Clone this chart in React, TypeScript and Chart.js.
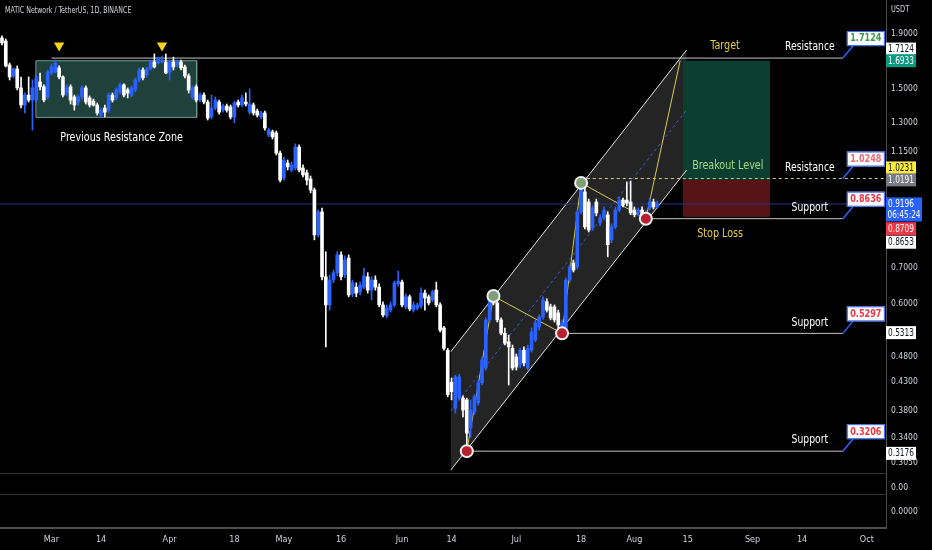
import { useEffect, useRef } from 'react';
import { Chart, registerables } from 'chart.js';

Chart.register(...registerables);

const FONT = '"Liberation Sans Narrow", "DejaVu Sans Condensed", "Roboto Condensed", "Liberation Sans", sans-serif';

// ---- candles (daily, first candle = Feb 16, day index relative to Mar 1) ----
const FIRST_DAY = -13;
const opens = [
  1.866, 1.842, 1.663, 1.587, 1.635, 1.508, 1.402, 1.463, 1.432, 1.432,
  1.547, 1.515, 1.451, 1.607, 1.614, 1.642, 1.580, 1.476, 1.515, 1.451,
  1.420, 1.451, 1.508, 1.445, 1.426, 1.402, 1.343, 1.384, 1.372, 1.463,
  1.445, 1.482, 1.528, 1.495, 1.463, 1.495, 1.560, 1.628, 1.594, 1.635,
  1.684, 1.677, 1.684, 1.684, 1.614, 1.684, 1.663, 1.684, 1.649, 1.587,
  1.451, 1.515, 1.432, 1.463, 1.420, 1.332, 1.384, 1.420, 1.372, 1.396,
  1.390, 1.332, 1.420, 1.402, 1.420, 1.360, 1.402, 1.366, 1.332, 1.355,
  1.234, 1.250, 1.244, 1.142, 1.027, 1.095, 1.063, 1.072, 1.172, 1.072,
  1.050, 1.023, 0.976, 0.806, 0.889, 0.674, 0.598, 0.665, 0.686, 0.740,
  0.680, 0.730, 0.627, 0.645, 0.632, 0.645, 0.674, 0.637, 0.665, 0.645,
  0.598, 0.571, 0.585, 0.598, 0.654, 0.659, 0.593, 0.619, 0.585, 0.590,
  0.595, 0.629, 0.619, 0.611, 0.637, 0.598, 0.542, 0.493, 0.430, 0.385,
  0.402, 0.402, 0.399, 0.354, 0.379, 0.394, 0.429, 0.457, 0.561, 0.619,
  0.603, 0.561, 0.530, 0.511, 0.497, 0.479, 0.463, 0.493, 0.457, 0.493,
  0.515, 0.544, 0.568, 0.606, 0.593, 0.593, 0.578, 0.537, 0.537, 0.665,
  0.715, 0.703, 0.889, 0.968, 0.927, 0.830, 0.927, 0.848, 0.867, 0.878,
  0.789, 0.834, 0.896, 0.935, 0.935, 0.927, 0.896, 0.885, 0.896, 0.867,
  0.904, 0.927, 0.908,
];
const highs = [
  1.882, 1.858, 1.677, 1.642, 1.656, 1.580, 1.476, 1.580, 1.560, 1.594,
  1.607, 1.528, 1.628, 1.670, 1.698, 1.656, 1.587, 1.528, 1.528, 1.463,
  1.463, 1.521, 1.521, 1.457, 1.438, 1.414, 1.384, 1.402, 1.476, 1.476,
  1.508, 1.541, 1.534, 1.508, 1.521, 1.574, 1.642, 1.642, 1.649, 1.698,
  1.743, 1.720, 1.728, 1.743, 1.698, 1.720, 1.698, 1.698, 1.663, 1.601,
  1.521, 1.528, 1.476, 1.476, 1.432, 1.463, 1.451, 1.432, 1.408, 1.408,
  1.402, 1.426, 1.432, 1.463, 1.476, 1.502, 1.414, 1.378, 1.366, 1.366,
  1.271, 1.260, 1.255, 1.152, 1.123, 1.109, 1.100, 1.188, 1.183, 1.086,
  1.063, 1.036, 0.984, 0.896, 0.904, 0.750, 0.680, 0.694, 0.750, 0.750,
  0.737, 0.740, 0.665, 0.657, 0.659, 0.700, 0.686, 0.674, 0.677, 0.654,
  0.606, 0.598, 0.606, 0.662, 0.691, 0.665, 0.627, 0.624, 0.606, 0.603,
  0.643, 0.637, 0.624, 0.637, 0.659, 0.603, 0.546, 0.497, 0.438, 0.443,
  0.445, 0.406, 0.402, 0.399, 0.408, 0.434, 0.479, 0.566, 0.621, 0.629,
  0.611, 0.566, 0.542, 0.526, 0.504, 0.485, 0.497, 0.500, 0.504, 0.542,
  0.561, 0.573, 0.619, 0.614, 0.600, 0.598, 0.585, 0.561, 0.671, 0.709,
  0.724, 0.896, 1.023, 0.984, 0.939, 0.912, 0.939, 0.878, 0.908, 0.889,
  0.845, 0.908, 0.947, 0.943, 1.010, 1.014, 0.908, 0.904, 0.908, 0.896,
  0.943, 0.939, 0.931,
];
const lows = [
  1.811, 1.649, 1.560, 1.574, 1.495, 1.384, 1.355, 1.420, 1.260, 1.420,
  1.495, 1.420, 1.438, 1.594, 1.607, 1.567, 1.451, 1.457, 1.408, 1.372,
  1.402, 1.432, 1.408, 1.390, 1.396, 1.343, 1.332, 1.332, 1.360, 1.420,
  1.432, 1.470, 1.451, 1.445, 1.451, 1.482, 1.547, 1.560, 1.580, 1.628,
  1.642, 1.670, 1.677, 1.601, 1.560, 1.628, 1.649, 1.628, 1.574, 1.476,
  1.438, 1.420, 1.420, 1.408, 1.315, 1.321, 1.372, 1.349, 1.360, 1.360,
  1.321, 1.299, 1.390, 1.390, 1.396, 1.349, 1.343, 1.332, 1.321, 1.260,
  1.224, 1.213, 1.133, 1.010, 1.018, 1.063, 1.054, 1.063, 1.054, 1.032,
  0.997, 0.964, 0.789, 0.799, 0.665, 0.500, 0.585, 0.657, 0.677, 0.665,
  0.671, 0.619, 0.619, 0.619, 0.624, 0.640, 0.629, 0.611, 0.637, 0.593,
  0.568, 0.566, 0.580, 0.593, 0.648, 0.593, 0.588, 0.583, 0.580, 0.585,
  0.590, 0.585, 0.598, 0.606, 0.593, 0.533, 0.493, 0.404, 0.399, 0.377,
  0.399, 0.371, 0.322, 0.340, 0.375, 0.390, 0.425, 0.453, 0.556, 0.598,
  0.556, 0.526, 0.504, 0.425, 0.453, 0.453, 0.457, 0.461, 0.453, 0.489,
  0.511, 0.537, 0.563, 0.580, 0.561, 0.556, 0.542, 0.524, 0.533, 0.659,
  0.688, 0.697, 0.881, 0.827, 0.816, 0.823, 0.874, 0.838, 0.859, 0.734,
  0.779, 0.827, 0.889, 0.908, 0.912, 0.878, 0.870, 0.874, 0.859, 0.855,
  0.896, 0.900, 0.904,
];
const closes = [
  1.827, 1.656, 1.580, 1.635, 1.508, 1.402, 1.463, 1.432, 1.508, 1.574,
  1.515, 1.432, 1.614, 1.649, 1.677, 1.580, 1.463, 1.508, 1.432, 1.402,
  1.451, 1.508, 1.420, 1.402, 1.402, 1.355, 1.372, 1.360, 1.463, 1.432,
  1.495, 1.528, 1.463, 1.476, 1.508, 1.560, 1.628, 1.574, 1.635, 1.684,
  1.649, 1.713, 1.698, 1.607, 1.684, 1.649, 1.684, 1.642, 1.587, 1.495,
  1.508, 1.432, 1.463, 1.420, 1.326, 1.384, 1.432, 1.360, 1.396, 1.372,
  1.332, 1.414, 1.402, 1.445, 1.408, 1.408, 1.355, 1.343, 1.355, 1.271,
  1.260, 1.224, 1.142, 1.018, 1.109, 1.077, 1.086, 1.172, 1.063, 1.041,
  1.018, 0.976, 0.806, 0.889, 0.674, 0.598, 0.665, 0.686, 0.740, 0.674,
  0.724, 0.624, 0.657, 0.629, 0.651, 0.677, 0.637, 0.665, 0.645, 0.598,
  0.573, 0.590, 0.598, 0.657, 0.662, 0.598, 0.619, 0.588, 0.598, 0.598,
  0.629, 0.616, 0.603, 0.632, 0.598, 0.537, 0.497, 0.408, 0.413, 0.440,
  0.440, 0.382, 0.346, 0.382, 0.404, 0.429, 0.473, 0.561, 0.611, 0.603,
  0.561, 0.530, 0.508, 0.500, 0.457, 0.459, 0.493, 0.467, 0.497, 0.533,
  0.554, 0.568, 0.611, 0.585, 0.566, 0.561, 0.549, 0.554, 0.665, 0.703,
  0.694, 0.889, 0.989, 0.834, 0.823, 0.904, 0.885, 0.867, 0.896, 0.773,
  0.834, 0.896, 0.935, 0.915, 0.923, 0.885, 0.878, 0.896, 0.867, 0.885,
  0.927, 0.908, 0.9196,
];

// ---- axes ----
const X_MIN = -13.52;
const X_MAX = 219.03;
const Y_MIN = 0.2921;
const Y_MAX = 2.1935;
const X_TICK_DAYS = [0, 13, 31, 48, 61, 76, 92, 105, 122, 139, 153, 167, 184, 197, 214];
const X_TICK_LABELS = ['Mar', '14', 'Apr', '18', 'May', '16', 'Jun', '14', 'Jul', '18', 'Aug', '15', 'Sep', '14', 'Oct'];
const Y_TICKS = [0.305, 0.34, 0.38, 0.43, 0.48, 0.6, 0.7, 1.15, 1.3, 1.5, 1.9];
const PANE_LABELS = ['0.00', '0.0000'];
const PANE_LABEL_POS = [0.29, 0.48];

// ---- drawings ----
const ZONE_DAYS = [-4.1, 38.1];
const ZONE_PRICES = [1.6933, 1.33];
const BOX_DAYS = [165.7, 188.6];
const BOX_PRICES = [1.6933, 1.0191, 0.8709]; // target, entry, stop
const CHANNEL_DAYS = [104.8, 166.7];
const CHANNEL_UPPER = [0.4899, 1.7726];
const CHANNEL_LOWER = [0.2958, 1.0624];
const CHANNEL_MID = [0.3807, 1.3726];
const ZIGZAG_DAYS = [109, 116, 134, 139, 156, 165];
const ZIGZAG_PRICES = [0.3206, 0.621, 0.5297, 1.006, 0.8636, 1.6933];
const PIVOT_KINDS = ['low', 'high', 'low', 'high', 'low'];
const TRIANGLE_DAYS = [2, 29];
const TRIANGLE_PRICE = 1.806;
const LEVEL_VALUES = [1.7124, 1.0248, 0.8636, 0.5297, 0.3206];
const LEVEL_NAMES = ['Resistance', 'Resistance', 'Support', 'Support', 'Support'];
const LEVEL_START_DAYS = [0, 140.5, 156, 134, 109];
const LEVEL_END_DAY = 207.7;
const LEVEL_VALUE_COLORS = ['#3f9a4c', '#f06a72', '#f23645', '#f23645', '#f23645'];
const CURRENT_PRICE = 0.9196;
const COUNTDOWN = '06:45:24';
const NOTE_TEXTS = ['Previous Resistance Zone', 'Target', 'Breakout Level', 'Stop Loss'];
const NOTE_DAYS = [18.4, 176.8, 177.5, 175.5];
const NOTE_PRICES = [1.219, 1.803, 1.081, 0.809];
const NOTE_COLORS = ['#ffffff', '#e8cd4a', '#a6d98c', '#e8cd4a'];
const TAG_VALUES = [1.7124, 1.6933, 1.0231, 1.0191, 0.8709, 0.8653, 0.5313, 0.3176];
const TAG_BG = ['#ffffff', '#089981', '#ffeb3b', '#787b86', '#f23645', '#ffffff', '#ffffff', '#ffffff'];
const TAG_FG = ['#131722', '#ffffff', '#131722', '#ffffff', '#ffffff', '#131722', '#131722', '#131722'];
const TAG_SHIFT = [-9, 0, -11, 0, 12, 24, 0, 0];

const BLUE = '#2962ff';
const WHITE = '#ffffff';
const TEXT = '#d1d4dc';
const SQUEEZE = 0.82;

const pts = (xs: number[], ys: number[]) => xs.map((x, i) => ({ x, y: ys[i] }));

function lineDs(data: any[], extra: any = {}) {
  return {
    type: 'line',
    data,
    borderColor: '#c8c8c8',
    borderWidth: 1,
    pointRadius: 0,
    tension: 0,
    fill: false,
    order: 6,
    ...extra,
  };
}

// condensed text (horizontal squeeze)
function text(ctx: any, t: string, x: number, y: number, font: string, color: string, align = 'center') {
  ctx.save();
  ctx.font = font;
  ctx.fillStyle = color;
  ctx.textAlign = align;
  ctx.textBaseline = 'middle';
  ctx.translate(x, y);
  ctx.scale(SQUEEZE, 1);
  ctx.fillText(t, 0, 0);
  ctx.restore();
}

const overlayPlugin = {
  id: 'overlay',
  afterDatasetsDraw(chart: any) {
    const { ctx } = chart;
    const xs = chart.scales.x;
    const ys = chart.scales.y;
    ctx.save();
    NOTE_TEXTS.forEach((t, i) => {
      text(ctx, t, xs.getPixelForValue(NOTE_DAYS[i]), ys.getPixelForValue(NOTE_PRICES[i]),
        `${i === 0 ? 13 : 13}px ${FONT}`, NOTE_COLORS[i]);
    });
    const ex = xs.getPixelForValue(LEVEL_END_DAY);
    LEVEL_VALUES.forEach((v, i) => {
      const ly = ys.getPixelForValue(v);
      text(ctx, LEVEL_NAMES[i], ex - 33, ly - 11, `12.5px ${FONT}`, '#ffffff');
      ctx.strokeStyle = BLUE;
      ctx.lineWidth = 1.5;
      ctx.beginPath();
      ctx.moveTo(ex, ly);
      ctx.lineTo(ex + 10, ly - 12);
      ctx.stroke();
      ctx.fillStyle = '#ffffff';
      ctx.fillRect(ex + 4, ly - 27, 38, 15);
      ctx.lineWidth = 1;
      ctx.strokeRect(ex + 4.5, ly - 26.5, 37, 14);
      text(ctx, v.toFixed(4), ex + 23, ly - 19.5, `bold 11px ${FONT}`, LEVEL_VALUE_COLORS[i]);
    });
    ctx.restore();
  },
  afterDraw(chart: any) {
    const { ctx, chartArea } = chart;
    const ys = chart.scales.y;
    ctx.save();
    ctx.strokeStyle = '#333333';
    ctx.lineWidth = 1;
    [chart.scales.y2.top, chart.scales.y3.top].forEach((t: number) => {
      ctx.beginPath();
      ctx.moveTo(chartArea.left, Math.round(t) + 0.5);
      ctx.lineTo(chartArea.right, Math.round(t) + 0.5);
      ctx.stroke();
    });
    text(ctx, 'MATIC Network / TetherUS, 1D, BINANCE', 5, 11, `8.5px ${FONT}`, TEXT, 'left');
    const ax = ys.left;
    text(ctx, 'USDT', ax + 5, 10, `9px ${FONT}`, TEXT, 'left');
    TAG_VALUES.forEach((v, i) => {
      const cy = ys.getPixelForValue(v) + TAG_SHIFT[i];
      ctx.fillStyle = TAG_BG[i];
      ctx.fillRect(ax, cy - 6.5, 30, 13);
      text(ctx, v.toFixed(4), ax + 15, cy + 0.5, `10px ${FONT}`, TAG_FG[i]);
    });
    const cy = ys.getPixelForValue(CURRENT_PRICE);
    ctx.fillStyle = BLUE;
    ctx.fillRect(ax, cy - 6.5, 36, 24);
    text(ctx, CURRENT_PRICE.toFixed(4), ax + 15, cy + 0.5, `10px ${FONT}`, '#ffffff');
    text(ctx, COUNTDOWN, ax + 18, cy + 11.5, `10px ${FONT}`, '#ffffff');
    ctx.restore();
  },
};

export default function App() {
  const ref = useRef<HTMLCanvasElement>(null);
  useEffect(() => {
    const canvas = ref.current;
    if (!canvas) return;
    const days = opens.map((_, i) => FIRST_DAY + i);
    const colors = closes.map((c, i) => (c >= opens[i] ? BLUE : WHITE));

    const datasets: any[] = [
      {
        type: 'bar',
        data: days.map((d, i) => ({ x: d, y: [opens[i], closes[i]] })),
        backgroundColor: colors,
        barThickness: 3,
        minBarLength: 1,
        grouped: false,
        order: 1,
      },
      {
        type: 'bar',
        data: days.map((d, i) => ({ x: d, y: [lows[i], highs[i]] })),
        backgroundColor: colors,
        barThickness: 1,
        grouped: false,
        order: 2,
      },
      lineDs(pts(ZONE_DAYS, [ZONE_PRICES[0], ZONE_PRICES[0]]), { borderWidth: 0, fill: '+1', backgroundColor: '#20403c', order: 12 }),
      lineDs(pts(ZONE_DAYS, [ZONE_PRICES[1], ZONE_PRICES[1]]), { borderWidth: 0, order: 12 }),
      lineDs(
        pts(
          [ZONE_DAYS[0], ZONE_DAYS[1], ZONE_DAYS[1], ZONE_DAYS[0], ZONE_DAYS[0]],
          [ZONE_PRICES[0], ZONE_PRICES[0], ZONE_PRICES[1], ZONE_PRICES[1], ZONE_PRICES[0]]
        ),
        { borderColor: '#6a9e95', order: 11 }
      ),
      lineDs(pts(BOX_DAYS, [BOX_PRICES[0], BOX_PRICES[0]]), { borderWidth: 0, fill: '+1', backgroundColor: '#0d3f30', order: 12 }),
      lineDs(pts(BOX_DAYS, [BOX_PRICES[1], BOX_PRICES[1]]), { borderWidth: 0, order: 12 }),
      lineDs(pts(BOX_DAYS, [BOX_PRICES[1], BOX_PRICES[1]]), { borderWidth: 0, fill: '+1', backgroundColor: '#561418', order: 12 }),
      lineDs(pts(BOX_DAYS, [BOX_PRICES[2], BOX_PRICES[2]]), { borderWidth: 0, order: 12 }),
      lineDs(pts(CHANNEL_DAYS, CHANNEL_UPPER), { borderColor: '#e6e6e6', fill: '+1', backgroundColor: '#242424', order: 13 }),
      lineDs(pts(CHANNEL_DAYS, CHANNEL_LOWER), { borderColor: '#e6e6e6', order: 5 }),
      lineDs(pts(CHANNEL_DAYS, CHANNEL_MID), { borderColor: '#3a5bd0', borderDash: [3, 3], order: 9 }),
      lineDs(pts([X_MIN, X_MAX], [CURRENT_PRICE, CURRENT_PRICE]), { borderColor: '#2a3382', order: 10 }),
      ...LEVEL_VALUES.map((v, i) =>
        lineDs(pts([LEVEL_START_DAYS[i], i === 1 ? X_MAX : LEVEL_END_DAY], [v, v]), {
          borderColor: i === 1 ? '#d6cf86' : '#c4c4c4',
          borderDash: i === 1 ? [3, 3] : [],
          order: 6,
        })
      ),
      lineDs(pts(ZIGZAG_DAYS, ZIGZAG_PRICES), { borderColor: '#d4cb55', order: 3 }),
      {
        type: 'line',
        data: pts(ZIGZAG_DAYS.slice(0, 5), ZIGZAG_PRICES.slice(0, 5)),
        showLine: false,
        pointRadius: 6,
        pointBorderWidth: 2,
        pointBorderColor: '#f0f0f0',
        pointBackgroundColor: PIVOT_KINDS.map((k) => (k === 'high' ? '#7f9f78' : '#b8202f')),
        order: -1,
      },
      {
        type: 'line',
        data: TRIANGLE_DAYS.map((d) => ({ x: d, y: TRIANGLE_PRICE })),
        showLine: false,
        pointStyle: 'triangle',
        rotation: 180,
        pointRadius: 6,
        pointBorderWidth: 0,
        pointBackgroundColor: '#f7d21c',
        order: -1,
      },
    ];

    const tickFont = { family: FONT, size: 8.5 };
    const noPad = (s: any) => {
      s.paddingTop = 0;
      s.paddingBottom = 0;
      s.paddingLeft = 0;
      s.paddingRight = 0;
    };
    const paneScale = (weight: number, label: string, pos: number) => ({
      type: 'linear',
      position: 'right',
      stack: 'panes',
      stackWeight: weight,
      min: 0,
      max: 1,
      grid: { display: false, drawTicks: false },
      border: { display: true, color: '#4e4e4e', width: 1 },
      afterBuildTicks: (s: any) => {
        s.ticks = [{ value: pos }];
      },
      afterFit: (s: any) => {
        s.width = 46;
        noPad(s);
      },
      ticks: { autoSkip: false, padding: 5, color: TEXT, font: tickFont, callback: () => label },
    });

    const chart = new Chart(canvas, {
      type: 'bar',
      data: { datasets },
      plugins: [overlayPlugin],
      options: {
        animation: false,
        responsive: false,
        maintainAspectRatio: false,
        layout: { padding: 0, autoPadding: false },
        plugins: { legend: { display: false }, tooltip: { enabled: false } },
        scales: {
          x: {
            type: 'linear',
            min: X_MIN,
            max: X_MAX,
            offset: false,
            bounds: 'data',
            grid: { display: false, drawTicks: false },
            border: { display: true, color: '#4e4e4e', width: 2 },
            afterBuildTicks: (s: any) => {
              s.ticks = X_TICK_DAYS.map((v) => ({ value: v }));
            },
            afterFit: (s: any) => {
              s.height = 22;
              noPad(s);
            },
            ticks: {
              autoSkip: false,
              maxRotation: 0,
              padding: 6,
              color: TEXT,
              font: { family: FONT, size: 9 },
              callback: (v: any) => {
                const idx = X_TICK_DAYS.indexOf(Number(v));
                return idx >= 0 ? X_TICK_LABELS[idx] : '';
              },
            },
          },
          y: {
            type: 'logarithmic',
            position: 'right',
            stack: 'panes',
            stackWeight: 473,
            min: Y_MIN,
            max: Y_MAX,
            bounds: 'data',
            grid: { display: false, drawTicks: false },
            border: { display: true, color: '#4e4e4e', width: 1 },
            afterBuildTicks: (s: any) => {
              s.ticks = Y_TICKS.map((v) => ({ value: v }));
            },
            afterFit: (s: any) => {
              s.width = 46;
              noPad(s);
            },
            ticks: {
              autoSkip: false,
              padding: 5,
              color: TEXT,
              font: tickFont,
              callback: (v: any) => Number(v).toFixed(4),
            },
          },
          y2: paneScale(21, PANE_LABELS[0], PANE_LABEL_POS[0]),
          y3: paneScale(34, PANE_LABELS[1], PANE_LABEL_POS[1]),
        },
      } as any,
    } as any);
    return () => chart.destroy();
  }, []);

  return (
    <div style={{ position: 'fixed', left: 0, top: 0, width: 932, height: 550, background: '#000' }}>
      <canvas ref={ref} width={932} height={550} style={{ width: 932, height: 550, display: 'block' }} />
    </div>
  );
}
